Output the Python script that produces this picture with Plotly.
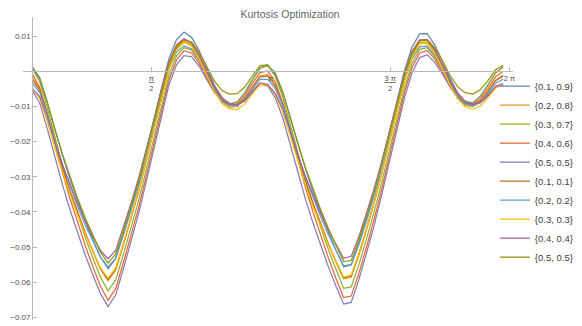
import math
import plotly.graph_objects as go

x_vals = [0.0, 0.1, 0.2, 0.3, 0.4, 0.5, 0.6, 0.7, 0.8, 0.9,
          1.0, 1.1, 1.2, 1.3, 1.4, 1.5, 1.6, 1.7, 1.8, 1.9,
          2.0, 2.1, 2.2, 2.3, 2.4, 2.5, 2.6, 2.7, 2.8, 2.9,
          3.0, 3.1, 3.2, 3.3, 3.4, 3.5, 3.6, 3.7, 3.8, 3.9,
          4.0, 4.1, 4.2, 4.3, 4.4, 4.5, 4.6, 4.7, 4.8, 4.9,
          5.0, 5.1, 5.2, 5.3, 5.4, 5.5, 5.6, 5.7, 5.8, 5.9,
          6.0, 6.1, 6.2]

series_labels = ["{0.1, 0.9}", "{0.2, 0.8}", "{0.3, 0.7}", "{0.4, 0.6}", "{0.5, 0.5}",
                 "{0.1, 0.1}", "{0.2, 0.2}", "{0.3, 0.3}", "{0.4, 0.4}", "{0.5, 0.5}"]

series_colors = ["#5E81B5", "#E19C24", "#8FB032", "#EB6235", "#8778B3",
                 "#C56E1A", "#5D9EC7", "#FFBF00", "#A5609D", "#929600"]

s_01_09 = [0.0014, -0.0018, -0.0088, -0.0167, -0.0239, -0.0307, -0.0369, -0.0427, -0.0479, -0.0528,
           -0.0561, -0.0532, -0.0463, -0.0391, -0.0315, -0.0228, -0.0141, -0.0047, 0.0035, 0.0089,
           0.0111, 0.0096, 0.0058, 0.0009, -0.0040, -0.0075, -0.0094, -0.0087, -0.0061, -0.0023,
           0.0010, 0.0018,
           -0.0005, -0.0059, -0.0134, -0.0209, -0.0279, -0.0343, -0.0403, -0.0457, -0.0508, -0.0556,
           -0.0551, -0.0491, -0.0420, -0.0346, -0.0264, -0.0178, -0.0087, 0.0000, 0.0068, 0.0106,
           0.0107, 0.0074, 0.0030, -0.0019, -0.0061, -0.0086, -0.0090, -0.0071, -0.0039, -0.0005,
           0.0012]

s_02_08 = [-0.0018, -0.0050, -0.0120, -0.0200, -0.0272, -0.0340, -0.0402, -0.0460, -0.0513, -0.0562,
           -0.0595, -0.0565, -0.0495, -0.0422, -0.0345, -0.0258, -0.0170, -0.0075, 0.0008, 0.0063,
           0.0086, 0.0074, 0.0038, -0.0008, -0.0054, -0.0087, -0.0103, -0.0100, -0.0079, -0.0045,
           -0.0014, -0.0009,
           -0.0037, -0.0091, -0.0167, -0.0242, -0.0312, -0.0376, -0.0436, -0.0491, -0.0542, -0.0590,
           -0.0585, -0.0524, -0.0452, -0.0377, -0.0294, -0.0207, -0.0115, -0.0027, 0.0042, 0.0081,
           0.0083, 0.0053, 0.0011, -0.0035, -0.0074, -0.0097, -0.0101, -0.0087, -0.0059, -0.0026,
           -0.0011]

s_03_07 = [0.0008, -0.0030, -0.0105, -0.0190, -0.0268, -0.0342, -0.0409, -0.0473, -0.0531, -0.0586,
           -0.0624, -0.0593, -0.0522, -0.0448, -0.0370, -0.0282, -0.0193, -0.0097, -0.0013, 0.0043,
           0.0067, 0.0060, 0.0029, -0.0013, -0.0054, -0.0082, -0.0093, -0.0087, -0.0063, -0.0026,
           0.0008, 0.0015,
           -0.0014, -0.0074, -0.0155, -0.0236, -0.0311, -0.0381, -0.0446, -0.0507, -0.0563, -0.0617,
           -0.0613, -0.0551, -0.0478, -0.0402, -0.0318, -0.0230, -0.0137, -0.0048, 0.0022, 0.0062,
           0.0067, 0.0042, 0.0005, -0.0036, -0.0070, -0.0089, -0.0090, -0.0073, -0.0041, -0.0005,
           0.0013]

s_04_06 = [-0.0007, -0.0046, -0.0122, -0.0209, -0.0288, -0.0363, -0.0431, -0.0496, -0.0556, -0.0611,
           -0.0651, -0.0618, -0.0545, -0.0470, -0.0390, -0.0300, -0.0209, -0.0111, -0.0026, 0.0032,
           0.0058, 0.0052, 0.0022, -0.0019, -0.0059, -0.0086, -0.0096, -0.0092, -0.0070, -0.0035,
           -0.0004, 0.0001,
           -0.0030, -0.0091, -0.0173, -0.0255, -0.0332, -0.0402, -0.0469, -0.0531, -0.0589, -0.0643,
           -0.0639, -0.0576, -0.0501, -0.0423, -0.0337, -0.0247, -0.0153, -0.0062, 0.0010, 0.0052,
           0.0059, 0.0035, -0.0002, -0.0042, -0.0075, -0.0092, -0.0094, -0.0079, -0.0050, -0.0016,
           0.0000]

s_05_05a = [-0.0054, -0.0090, -0.0164, -0.0247, -0.0323, -0.0395, -0.0461, -0.0523, -0.0579, -0.0632,
            -0.0669, -0.0636, -0.0563, -0.0486, -0.0406, -0.0316, -0.0225, -0.0127, -0.0040, 0.0018,
            0.0044, 0.0041, 0.0014, -0.0024, -0.0061, -0.0085, -0.0095, -0.0096, -0.0085, -0.0060,
            -0.0037, -0.0042,
            -0.0075, -0.0133, -0.0213, -0.0292, -0.0365, -0.0433, -0.0497, -0.0556, -0.0611, -0.0662,
            -0.0657, -0.0593, -0.0518, -0.0440, -0.0353, -0.0263, -0.0168, -0.0077, -0.0005, 0.0038,
            0.0047, 0.0025, -0.0008, -0.0045, -0.0075, -0.0089, -0.0095, -0.0090, -0.0071, -0.0046,
            -0.0040]

s_01_01 = [-0.0023, -0.0054, -0.0124, -0.0203, -0.0274, -0.0342, -0.0403, -0.0460, -0.0512, -0.0561,
           -0.0593, -0.0563, -0.0492, -0.0419, -0.0342, -0.0255, -0.0166, -0.0071, 0.0012, 0.0068,
           0.0091, 0.0079, 0.0043, -0.0003, -0.0048, -0.0081, -0.0097, -0.0096, -0.0077, -0.0045,
           -0.0016, -0.0014,
           -0.0042, -0.0095, -0.0170, -0.0245, -0.0314, -0.0377, -0.0436, -0.0491, -0.0541, -0.0588,
           -0.0583, -0.0521, -0.0449, -0.0374, -0.0291, -0.0203, -0.0111, -0.0023, 0.0047, 0.0086,
           0.0089, 0.0059, 0.0017, -0.0029, -0.0068, -0.0091, -0.0097, -0.0085, -0.0058, -0.0027,
           -0.0014]

s_02_02 = [-0.0033, -0.0060, -0.0124, -0.0199, -0.0265, -0.0328, -0.0385, -0.0437, -0.0485, -0.0528,
           -0.0556, -0.0531, -0.0467, -0.0399, -0.0327, -0.0245, -0.0163, -0.0073, 0.0005, 0.0054,
           0.0072, 0.0063, 0.0030, -0.0013, -0.0055, -0.0085, -0.0098, -0.0099, -0.0081, -0.0051,
           -0.0023, -0.0023,
           -0.0049, -0.0097, -0.0168, -0.0238, -0.0302, -0.0361, -0.0415, -0.0465, -0.0511, -0.0553,
           -0.0549, -0.0493, -0.0427, -0.0357, -0.0279, -0.0198, -0.0111, -0.0028, 0.0035, 0.0069,
           0.0071, 0.0044, 0.0006, -0.0037, -0.0073, -0.0093, -0.0099, -0.0088, -0.0064, -0.0034,
           -0.0023]

s_03_03 = [-0.0049, -0.0077, -0.0143, -0.0220, -0.0288, -0.0352, -0.0410, -0.0464, -0.0514, -0.0559,
           -0.0588, -0.0559, -0.0490, -0.0418, -0.0342, -0.0256, -0.0170, -0.0076, 0.0006, 0.0060,
           0.0082, 0.0070, 0.0034, -0.0012, -0.0058, -0.0091, -0.0107, -0.0109, -0.0093, -0.0064,
           -0.0038, -0.0038,
           -0.0066, -0.0116, -0.0188, -0.0259, -0.0326, -0.0386, -0.0442, -0.0493, -0.0540, -0.0585,
           -0.0579, -0.0519, -0.0448, -0.0374, -0.0292, -0.0206, -0.0115, -0.0028, 0.0040, 0.0077,
           0.0079, 0.0049, 0.0007, -0.0039, -0.0078, -0.0101, -0.0108, -0.0099, -0.0076, -0.0048,
           -0.0038]

s_04_04 = [-0.0049, -0.0072, -0.0132, -0.0203, -0.0266, -0.0324, -0.0377, -0.0426, -0.0470, -0.0509,
           -0.0533, -0.0509, -0.0444, -0.0377, -0.0305, -0.0224, -0.0142, -0.0052, 0.0025, 0.0075,
           0.0092, 0.0081, 0.0046, 0.0001, -0.0044, -0.0076, -0.0091, -0.0096, -0.0083, -0.0057,
           -0.0033, -0.0037,
           -0.0063, -0.0107, -0.0174, -0.0240, -0.0300, -0.0355, -0.0406, -0.0451, -0.0493, -0.0532,
           -0.0526, -0.0471, -0.0404, -0.0335, -0.0258, -0.0176, -0.0090, -0.0007, 0.0056, 0.0089,
           0.0090, 0.0061, 0.0020, -0.0025, -0.0063, -0.0085, -0.0094, -0.0088, -0.0068, -0.0043,
           -0.0035]

s_05_05b = [0.0008, -0.0022, -0.0089, -0.0167, -0.0236, -0.0302, -0.0362, -0.0417, -0.0468, -0.0514,
            -0.0545, -0.0520, -0.0454, -0.0386, -0.0314, -0.0231, -0.0148, -0.0058, 0.0020, 0.0071,
            0.0089, 0.0083, 0.0053, 0.0013, -0.0028, -0.0055, -0.0065, -0.0064, -0.0045, -0.0013,
            0.0016, 0.0018,
            -0.0010, -0.0061, -0.0135, -0.0207, -0.0275, -0.0337, -0.0394, -0.0447, -0.0495, -0.0541,
            -0.0538, -0.0481, -0.0414, -0.0344, -0.0265, -0.0183, -0.0096, -0.0013, 0.0052, 0.0086,
            0.0090, 0.0066, 0.0030, -0.0011, -0.0044, -0.0061, -0.0065, -0.0053, -0.0027, 0.0004,
            0.0017]

y_series = [s_01_09, s_02_08, s_03_07, s_04_06, s_05_05a,
            s_01_01, s_02_02, s_03_03, s_04_04, s_05_05b]

y_tick_vals = [0.01, -0.01, -0.02, -0.03, -0.04, -0.05, -0.06, -0.07]
x_tick_vals = [math.pi / 2, math.pi, 3 * math.pi / 2, 2 * math.pi]
x_tick_text = ['<span style="text-decoration:underline">π</span><br>2',
               'π',
               '<span style="text-decoration:underline">3 π</span><br>2',
               '2 π']

FONT = "Liberation Sans, Arial, sans-serif"
AXIS_COL = "#b8b8b8"
LABEL_COL = "#505050"

fig = go.Figure()
for lab, col, ys in zip(series_labels, series_colors, y_series):
    fig.add_trace(go.Scatter(x=x_vals, y=ys, mode="lines", name=lab,
                             line=dict(color=col, width=1.2)))

x_range = [-0.12, 6.33]
y_range = [-0.0707, 0.0154]

# the page body adds an 8 px margin, so the figure is 8 px smaller each way
fig.update_layout(
    width=574, height=318,
    margin=dict(l=15, r=69, t=9, b=6, autoexpand=False),
    paper_bgcolor="white", plot_bgcolor="white",
    font=dict(family=FONT, size=8, color=LABEL_COL),
    title=dict(text="Kurtosis Optimization", x=0.4913, xref="container", xanchor="center",
               y=0.993, yref="container", yanchor="top",
               font=dict(family=FONT, size=10.5, color="#666666")),
    showlegend=True,
    legend=dict(x=0.963, xanchor="left", y=0.82, yanchor="top",
                font=dict(family=FONT, size=9.5, color="#404040"),
                bgcolor="rgba(0,0,0,0)", itemwidth=30),
    xaxis=dict(range=x_range, showgrid=False, zeroline=False,
               showline=True, linecolor=AXIS_COL, linewidth=1,
               anchor="free", position=(0 - y_range[0]) / (y_range[1] - y_range[0]),
               tickmode="array", tickvals=x_tick_vals, ticktext=x_tick_text,
               ticks="inside", ticklen=4, tickcolor=AXIS_COL,
               tickfont=dict(family=FONT, size=7.5, color=LABEL_COL)),
    yaxis=dict(range=y_range, showgrid=False, zeroline=False,
               showline=True, linecolor=AXIS_COL, linewidth=1,
               anchor="free", position=(0 - x_range[0]) / (x_range[1] - x_range[0]),
               tickmode="array", tickvals=y_tick_vals,
               ticks="inside", ticklen=4, tickcolor=AXIS_COL,
               tickfont=dict(family=FONT, size=8, color=LABEL_COL)),
)

fig.write_html("out.html")
